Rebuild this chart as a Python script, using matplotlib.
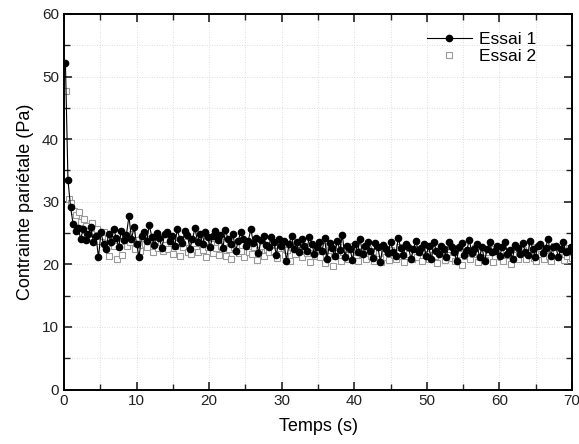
import numpy as np
import matplotlib
matplotlib.use('Agg')
import matplotlib.pyplot as plt
from matplotlib.ticker import MultipleLocator

plt.rcParams['font.family'] = ['Liberation Sans', 'DejaVu Sans']

# sampling of both runs (s)
dt = 0.35
t_start_1 = 0.2
t_start_2 = 0.3

essai_1 = [
    52.1, 33.5, 29.2, 26.5, 25.3, 25.8, 24.1, 25.6, 23.9, 24.8, 26.0, 23.5, 24.6, 21.1, 25.1, 23.2, 22.4, 24.9, 23.6, 25.7,
    24.2, 22.8, 25.4, 23.9, 24.7, 27.7, 24.0, 25.9, 23.3, 21.2, 24.6, 25.1, 23.7, 26.3, 24.4, 23.1, 25.0, 24.2, 22.6, 24.8,
    25.2, 23.8, 24.5, 22.9, 25.6, 24.1, 23.4, 25.3, 24.7, 22.5, 24.0, 25.8, 23.6, 24.9, 23.2, 25.1, 24.3, 22.8, 24.6, 25.4,
    23.9, 24.7, 22.6, 25.5, 24.0, 23.3, 24.8, 22.1, 23.7, 25.2, 24.1, 22.9, 23.8, 25.6, 23.4, 24.2, 21.8, 23.9, 24.5, 23.1,
    22.7, 24.3, 23.6, 21.5, 24.0, 22.9, 23.7, 20.6, 23.2, 24.6, 22.4, 23.5, 21.9, 24.1, 23.0, 22.2, 24.4, 23.3, 21.7, 22.8,
    23.6, 22.1, 24.2, 20.9, 23.4, 22.6, 21.4, 23.8, 22.3, 24.7, 21.2, 23.0, 22.5, 20.7, 23.3, 22.0, 24.0, 21.6, 22.9, 23.5,
    22.2, 21.0, 23.4, 22.7, 20.4, 23.1, 22.4, 21.8, 23.6, 22.0, 21.3, 24.2, 22.6, 21.5, 23.2, 22.8, 20.9, 22.5, 23.7, 21.9,
    22.6, 23.3, 21.4, 22.9, 20.8, 23.5, 22.1, 21.7, 23.0, 22.4, 21.2, 23.6, 22.7, 21.9, 20.6, 22.8, 23.4, 21.5, 22.3, 23.9,
    21.8, 22.5, 23.2, 21.1, 22.7, 20.5, 22.4, 23.6, 21.9, 22.2, 23.0, 21.4, 22.8, 23.5, 21.7, 22.3, 20.9, 23.1, 22.6, 21.6,
    23.4, 22.0, 21.5, 23.8, 22.4, 21.2, 22.9, 23.3, 21.8, 22.6, 24.1, 21.4, 22.7, 23.0, 21.1, 22.5, 23.6, 21.9, 22.2, 22.8,
]

essai_2 = [
    47.7, 30.4, 29.8, 28.6, 27.9, 28.4, 26.8, 27.3, 26.1, 25.4, 26.6, 24.9, 25.7, 23.8, 24.6, 25.2, 23.4, 21.3, 24.1, 23.0,
    20.8, 23.7, 21.5, 24.4, 22.9, 23.6, 24.8, 22.4, 23.9, 22.1, 24.2, 23.3, 22.7, 24.0, 21.9, 23.5, 22.6, 24.3, 22.2, 23.1,
    22.5, 23.8, 21.7, 22.9, 23.4, 21.4, 22.8, 23.6, 22.0, 21.6, 23.2, 22.4, 21.9, 23.7, 22.3, 21.2, 22.7, 23.3, 21.8, 22.6,
    21.5, 22.9, 23.5, 21.3, 22.4, 20.9, 22.7, 23.1, 21.8, 22.2, 21.1, 23.4, 22.0, 21.6, 22.8, 20.7, 22.3, 23.0, 21.4, 22.5,
    21.9, 23.2, 22.1, 21.0, 22.6, 23.6, 21.5, 22.3, 20.6, 22.8, 21.7, 23.3, 22.0, 21.2, 22.5, 21.8, 20.4, 22.7, 21.3, 22.4,
    21.1, 22.9, 20.2, 21.6, 22.3, 19.8, 21.4, 22.7, 20.5, 21.9, 22.4, 20.9, 21.5, 23.0, 21.0, 20.6, 22.2, 21.7, 20.8, 22.5,
    21.3, 20.5, 22.1, 21.8, 20.3, 22.6, 21.2, 20.7, 22.3, 21.5, 20.9, 22.8, 21.4, 20.4, 22.0, 21.6, 20.8, 22.4, 21.1, 21.9,
    20.6, 22.2, 21.7, 20.9, 22.5, 21.3, 20.2, 21.8, 22.4, 20.7, 21.5, 22.9, 21.0, 20.5, 22.1, 21.6, 19.9, 21.4, 22.3, 20.8,
    21.7, 22.6, 20.4, 21.2, 22.0, 20.7, 21.9, 22.5, 20.3, 21.4, 22.8, 21.1, 20.6, 22.2, 21.5, 20.1, 21.8, 22.4, 20.9, 21.6,
    22.3, 20.8, 21.5, 22.7, 21.0, 20.5, 22.1, 21.7, 20.9, 22.4, 21.3, 20.6, 22.9, 21.8, 21.1, 22.2, 20.7, 21.4, 22.6, 21.0,
]

t1 = t_start_1 + dt * np.arange(len(essai_1))
t2 = t_start_2 + dt * np.arange(len(essai_2))

fig = plt.figure(figsize=(5.79, 4.44), dpi=100)
ax = fig.add_axes([0.1105, 0.1227, 0.8775, 0.8458])

ax.plot(t1, essai_1, '-o', color='black', lw=0.8, ms=4.5, label='Essai 1', zorder=3)
ax.plot(t2, essai_2, 's', mfc='white', mec='#9a9a9a', mew=0.8, ms=4.5, label='Essai 2', zorder=2)

ax.set_xlim(0, 70)
ax.set_ylim(0, 60)
ax.xaxis.set_major_locator(MultipleLocator(10))
ax.xaxis.set_minor_locator(MultipleLocator(5))
ax.yaxis.set_major_locator(MultipleLocator(10))
ax.yaxis.set_minor_locator(MultipleLocator(5))
ax.tick_params(which='both', direction='in', top=True, right=True, labelsize=11, colors='#222222')
ax.tick_params(which='major', length=6, width=1.2)
ax.tick_params(which='minor', length=4, width=1.0)
ax.grid(which='both', ls=(0, (1, 2)), color='#d4d4d4', lw=0.6)
for sp in ax.spines.values():
    sp.set_linewidth(1.4)

ax.set_xlabel('Temps (s)', fontsize=13, labelpad=7)
ax.set_ylabel('Contrainte pariétale (Pa)', fontsize=13, labelpad=6)

ax.legend(loc='upper right', bbox_to_anchor=(0.96, 0.995), frameon=False,
          fontsize=12.5, handlelength=2.6, labelspacing=0.15, handletextpad=0.4)

fig.savefig('out.png', dpi=100)
